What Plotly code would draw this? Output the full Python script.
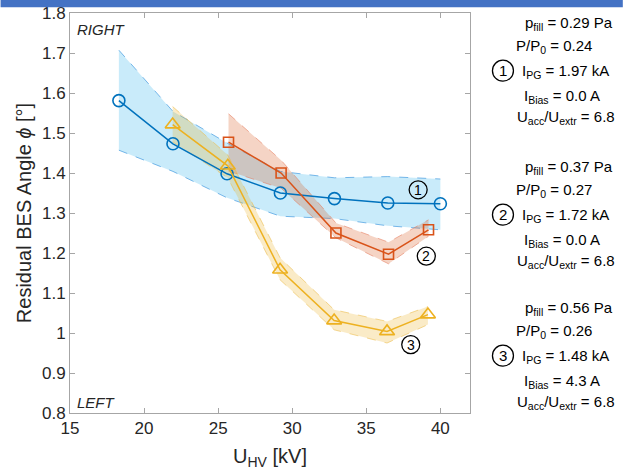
import plotly.graph_objects as go

# ---------------- data ----------------
# Series 1 (blue circles)
s1_x = [18.3, 21.95, 25.6, 29.2, 32.85, 36.45, 40.0]
s1_y = [1.581, 1.473, 1.398, 1.350, 1.336, 1.325, 1.323]
s1_hi = [1.707, 1.554, 1.475, 1.404, 1.388, 1.391, 1.385]
s1_lo = [1.457, 1.404, 1.338, 1.292, 1.286, 1.268, 1.258]

# Series 2 (orange squares)
s2_x = [25.7, 29.25, 32.95, 36.5, 39.2]
s2_y = [1.477, 1.400, 1.250, 1.197, 1.258]
s2_hi = [1.548, 1.432, 1.275, 1.227, 1.283]
s2_lo = [1.405, 1.362, 1.238, 1.173, 1.242]

# Series 3 (yellow triangles)
s3_x = [21.93, 25.65, 29.18, 32.83, 36.4, 39.16]
s3_y = [1.521, 1.418, 1.158, 1.031, 1.004, 1.046]
s3_hi = [1.566, 1.445, 1.188, 1.058, 1.029, 1.066]
s3_lo = [1.478, 1.388, 1.133, 1.008, 0.975, 1.021]

# curve labels (circled numbers) positions
lab_x = [38.5, 39.05, 38.0]
lab_y = [1.358, 1.192, 0.971]
lab_txt = ["1", "2", "3"]

# parameter blocks
p_fill = ["0.29", "0.37", "0.56"]
p_ratio = ["0.24", "0.27", "0.26"]
i_pg = ["1.97", "1.72", "1.48"]
i_bias = ["0.0", "0.0", "4.3"]
u_ratio = ["6.8", "6.8", "6.8"]

x_ticks = [15, 20, 25, 30, 35, 40]
y_ticks = [0.8, 0.9, 1.0, 1.1, 1.2, 1.3, 1.4, 1.5, 1.6, 1.7, 1.8]

# ---------------- styles ----------------
line_cols = ["#0072BD", "#D95319", "#EDB120"]
fill_cols = ["rgba(77,190,238,0.30)", "rgba(217,83,25,0.25)", "rgba(237,177,32,0.25)"]
edge_cols = ["rgba(77,160,225,0.75)", "rgba(230,120,90,0.55)", "rgba(237,190,80,0.6)"]
symbols = ["circle-open", "square-open", "triangle-up-open"]
msizes = [12, 10, 13]
FONT = "Liberation Sans, Arial, sans-serif"
TXT = "#262626"

series = [(s1_x, s1_y, s1_hi, s1_lo), (s2_x, s2_y, s2_hi, s2_lo), (s3_x, s3_y, s3_hi, s3_lo)]

fig = go.Figure()
for i, (xs, ys, hi, lo) in enumerate(series):
    fig.add_trace(go.Scatter(x=xs + xs[::-1], y=hi + lo[::-1], fill="toself",
                             fillcolor=fill_cols[i], line=dict(width=0), mode="lines",
                             hoverinfo="skip", showlegend=False))
    for b in (hi, lo):
        fig.add_trace(go.Scatter(x=xs, y=b, mode="lines",
                                 line=dict(color=edge_cols[i], width=1, dash="dash"),
                                 hoverinfo="skip", showlegend=False))
for i, (xs, ys, hi, lo) in enumerate(series):
    fig.add_trace(go.Scatter(x=xs, y=ys, mode="lines+markers",
                             line=dict(color=line_cols[i], width=1.5),
                             marker=dict(symbol=symbols[i], size=msizes[i],
                                         line=dict(color=line_cols[i], width=1.6)),
                             showlegend=False))

annotations = []
shapes = []
# circled labels in plot
for lx, ly, t in zip(lab_x, lab_y, lab_txt):
    annotations.append(dict(x=lx, y=ly, xref="x", yref="y", text=t, showarrow=False,
                            xanchor="center", yanchor="middle",
                            font=dict(family=FONT, size=14, color="black")))
    shapes.append(dict(type="circle", xref="x", yref="y", xsizemode="pixel", ysizemode="pixel",
                       xanchor=lx, yanchor=ly, x0=-9, x1=9, y0=-9, y1=9,
                       line=dict(color="black", width=1.3)))

# corner text
annotations.append(dict(x=0.012, y=0.958, xref="paper", yref="paper", text="<i>RIGHT</i>",
                        showarrow=False, xanchor="left", yanchor="middle",
                        font=dict(family=FONT, size=15, color=TXT)))
annotations.append(dict(x=0.012, y=0.027, xref="paper", yref="paper", text="<i>LEFT</i>",
                        showarrow=False, xanchor="left", yanchor="middle",
                        font=dict(family=FONT, size=15, color=TXT)))

# right parameter blocks (pixel layout converted to paper)
PL, PT, PW, PH = 69.5, 13.3, 400.5, 400.0
def px2paper(px, py):
    return (px - PL) / PW, (PT + PH - py) / PH

block_top = [24, 168, 309]
line_dy = [0, 23, 48, 73, 94]
line_cx = [569, 554, 566, 562, 566]
for b in range(3):
    lines = [f"p<sub>fill</sub> = {p_fill[b]} Pa",
             f"P/P<sub>0</sub> = {p_ratio[b]}",
             f"I<sub>PG</sub> = {i_pg[b]} kA",
             f"I<sub>Bias</sub> = {i_bias[b]} A",
             f"U<sub>acc</sub>/U<sub>extr</sub> = {u_ratio[b]}"]
    for k, t in enumerate(lines):
        xp, yp = px2paper(line_cx[k], block_top[b] + line_dy[k])
        annotations.append(dict(x=xp, y=yp, xref="paper", yref="paper", text=t,
                                showarrow=False, xanchor="center", yanchor="middle",
                                font=dict(family=FONT, size=15, color="black")))
    cx, cy = px2paper(503, block_top[b] + line_dy[2] - 1)
    annotations.append(dict(x=cx, y=cy, xref="paper", yref="paper", text=lab_txt[b],
                            showarrow=False, xanchor="center", yanchor="middle",
                            font=dict(family=FONT, size=15, color="black")))
    shapes.append(dict(type="circle", xref="paper", yref="paper", xsizemode="pixel",
                       ysizemode="pixel", xanchor=cx, yanchor=cy, x0=-10.5, x1=10.5,
                       y0=-10.5, y1=10.5, line=dict(color="black", width=1.3)))

# top blue bar
x0, y1 = px2paper(0, 0)
x1, y0 = px2paper(623, 7.5)
shapes.append(dict(type="rect", xref="paper", yref="paper", x0=x0, x1=x1, y0=y0, y1=y1,
                   fillcolor="rgb(68,114,196)", line=dict(width=0), layer="above"))

axis_common = dict(showgrid=False, zeroline=False, showline=True, linecolor="#a6a6a6",
                   linewidth=1, mirror="ticks", ticks="inside", ticklen=5, automargin=False,
                   tickcolor="#a6a6a6", tickfont=dict(family=FONT, size=17, color=TXT))

fig.update_layout(
    width=623, height=472,
    margin=dict(l=69.5, r=153, t=13.3, b=58.7, autoexpand=False),
    paper_bgcolor="white", plot_bgcolor="white",
    xaxis=dict(range=[15, 42], tickvals=x_ticks, ticktext=[str(v) for v in x_ticks],
               title=dict(text="U<sub>HV</sub> [kV]", standoff=11,
                          font=dict(family=FONT, size=20, color=TXT)),
               **axis_common),
    yaxis=dict(range=[0.8, 1.8], tickvals=y_ticks,
               ticktext=[("1" if abs(v - 1) < 1e-9 else f"{v:g}") for v in y_ticks],
               title=dict(text="Residual BES Angle <i>ϕ</i> [°]", standoff=4,
                          font=dict(family=FONT, size=20, color=TXT)),
               **axis_common),
    annotations=annotations, shapes=shapes,
)

fig.write_html("out.html", config={"displayModeBar": False},
               post_script="document.body.style.margin='0px';")
